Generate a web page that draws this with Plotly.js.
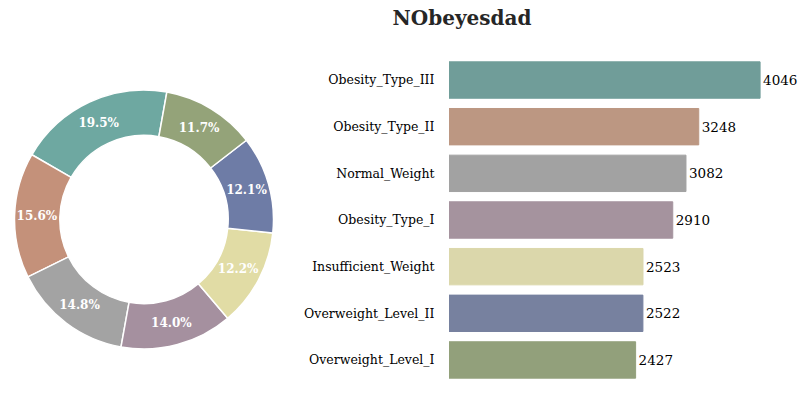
<!DOCTYPE html>
<html>
<head>
<meta charset="utf-8">
<script src="https://cdn.plot.ly/plotly-3.0.1.min.js"></script>
<style>
  html, body { margin: 0; padding: 0; background: #fff; }
  #chart { width: 809px; height: 407px; }
</style>
</head>
<body>
<div id="chart"></div>
<script>
// class counts, largest first
const categories = [
  'Obesity_Type_III',
  'Obesity_Type_II',
  'Normal_Weight',
  'Obesity_Type_I',
  'Insufficient_Weight',
  'Overweight_Level_II',
  'Overweight_Level_I',
]
const counts = [4046, 3248, 3082, 2910, 2523, 2522, 2427]

const pieColors = ['#6ea8a1', '#c4917a', '#a3a3a3', '#a5909f', '#e1dca5', '#6e7ca6', '#94a379']
const barColors = ['#709d99', '#bc9782', '#a2a2a2', '#a5939e', '#dbd7ab', '#77819f', '#92a07b']

const W = 809
const H = 407
const FONT = 'DejaVu Serif'

const data = [
  {
    type: 'pie',
    labels: categories,
    values: counts,
    sort: false,
    // ccw: first slice sits clockwise of the rotation line, the rest go ccw
    direction: 'counterclockwise',
    rotation: -60,
    hole: 0.65,
    marker: { colors: pieColors, line: { color: '#ffffff', width: 1.5 } },
    texttemplate: '%{percent:.1%}',
    textposition: 'inside',
    insidetextorientation: 'horizontal',
    textfont: { family: FONT, size: 12, color: '#ffffff', weight: 'bold' },
    hoverinfo: 'label+value+percent',
    showlegend: false,
    domain: { x: [14 / W, 274 / W], y: [(H - 349) / H, (H - 90) / H] },
  },
  {
    type: 'bar',
    orientation: 'h',
    x: counts,
    y: categories,
    marker: { color: barColors, line: { color: barColors, width: 1 } },
    text: counts.map(String),
    textposition: 'outside',
    cliponaxis: false,
    textfont: { family: FONT, size: 13.5, color: '#000000', weight: 'normal' },
    showlegend: false,
    xaxis: 'x',
    yaxis: 'y',
  },
]

const layout = {
  width: W,
  height: H,
  margin: { l: 0, r: 0, t: 0, b: 0 },
  paper_bgcolor: '#ffffff',
  plot_bgcolor: '#ffffff',
  font: { family: FONT, color: '#000000' },
  title: {
    text: '<b>NObeyesdad</b>',
    x: 462 / W,
    xanchor: 'center',
    y: 1 - 18 / H,
    yanchor: 'middle',
    font: { family: FONT, size: 20, color: '#262626' },
  },
  bargap: 0.22,
  xaxis: {
    domain: [449 / W, 795 / W],
    range: [0, 4500],
    visible: false,
    fixedrange: true,
  },
  yaxis: {
    domain: [(H - 383.3) / H, (H - 56.7) / H],
    autorange: 'reversed',
    showline: false,
    showgrid: false,
    zeroline: false,
    ticks: 'outside',
    ticklen: 11,
    tickcolor: 'rgba(0,0,0,0)',
    tickfont: { family: FONT, size: 12.5, color: '#000000', weight: 'normal' },
    automargin: false,
    fixedrange: true,
  },
}

Plotly.newPlot('chart', data, layout, { displayModeBar: false, staticPlot: true })
</script>
</body>
</html>
